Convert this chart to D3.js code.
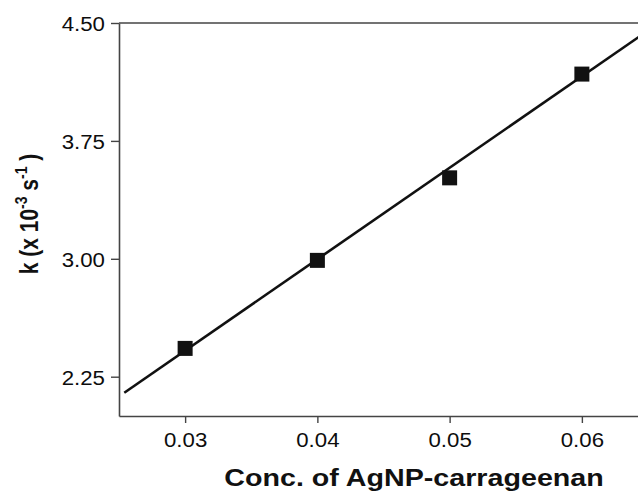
<!DOCTYPE html>
<html>
<head>
<meta charset="utf-8">
<script src="https://cdn.jsdelivr.net/npm/d3@7"></script>
<style>
  body { margin: 0; background: #fff; }
  svg { display: block; font-family: Arial, "Liberation Sans", sans-serif; }
</style>
</head>
<body>
<svg id="chart" width="638" height="491"></svg>
<script>
// data
const conc = [0.03, 0.04, 0.05, 0.06];
const kVals = [2.43, 2.99, 3.515, 4.175];
// linear fit, ends of the drawn line
const fitConc = [0.0254, 0.065];
const fitK = [2.148, 4.452];
const xTicks = [0.03, 0.04, 0.05, 0.06];
const yTicks = [2.25, 3.00, 3.75, 4.50];

// the original is stretched sideways a bit
const sx = 1.06;

let svg = d3.select('#chart');

let x = d3.scaleLinear().domain([0.025, 0.065]).range([119, 648]);
let y = d3.scaleLinear().domain([2.0, 4.5]).range([416, 23]);

const axisColor = '#444';

// top border
svg.append('line')
  .attr('x1', x(0.025)).attr('x2', x(0.065))
  .attr('y1', y(4.5)).attr('y2', y(4.5))
  .attr('stroke', axisColor).attr('stroke-width', 1.5);

let yAxis = svg.append('g')
  .attr('transform', `translate(${x(0.025)},0)`)
  .call(d3.axisLeft(y).tickValues(yTicks).tickSize(8).tickSizeOuter(0).tickFormat(d3.format('.2f')));

let xAxis = svg.append('g')
  .attr('transform', `translate(0,${y(2.0)})`)
  .call(d3.axisBottom(x).tickValues(xTicks).tickSize(7).tickSizeOuter(0).tickFormat(d3.format('.2f')));

[yAxis, xAxis].forEach(a => {
  a.select('.domain').attr('stroke', axisColor).attr('stroke-width', 1.6);
  a.selectAll('.tick line').attr('stroke', axisColor).attr('stroke-width', 1.4);
  a.selectAll('.tick text')
    .attr('fill', '#0d0d0d')
    .style('font-size', '21px')
    .style('font-family', 'Arial, "Liberation Sans", sans-serif');
});

yAxis.selectAll('.tick text')
  .attr('x', -14 / sx)
  .attr('dy', null)
  .attr('y', 7.5)
  .attr('transform', `scale(${sx},1)`);

xAxis.selectAll('.tick text')
  .attr('dy', null)
  .attr('y', 31.5)
  .attr('transform', `scale(${sx},1)`);

// fit line
let line = d3.line().x(d => x(d[0])).y(d => y(d[1]));
svg.append('path')
  .datum(d3.zip(fitConc, fitK))
  .attr('d', line)
  .attr('fill', 'none')
  .attr('stroke', '#111')
  .attr('stroke-width', 2.6);

// markers
const sq = 15;
svg.selectAll('rect.pt')
  .data(d3.zip(conc, kVals))
  .join('rect')
  .attr('class', 'pt')
  .attr('x', d => x(d[0]) - sq / 2)
  .attr('y', d => y(d[1]) - sq / 2)
  .attr('width', sq)
  .attr('height', sq)
  .attr('fill', '#111');

// x title
svg.append('text')
  .attr('transform', `translate(414,486) scale(1.17,1)`)
  .attr('text-anchor', 'middle')
  .attr('font-weight', 'bold')
  .attr('font-size', 24.5)
  .attr('fill', '#111')
  .text('Conc. of AgNP-carrageenan');

// y title
let yt = svg.append('text')
  .attr('transform', `translate(38,214) scale(1.2,1) rotate(-90)`)
  .attr('text-anchor', 'middle')
  .attr('font-weight', 'bold')
  .attr('font-size', 21)
  .attr('fill', '#111');
yt.append('tspan').text('k (x 10');
yt.append('tspan').attr('font-size', 14).attr('dy', -9).text('-3');
yt.append('tspan').attr('dy', 9).text(' s');
yt.append('tspan').attr('font-size', 14).attr('dy', -9).text('-1');
yt.append('tspan').attr('dy', 9).text(' )');
</script>
</body>
</html>
